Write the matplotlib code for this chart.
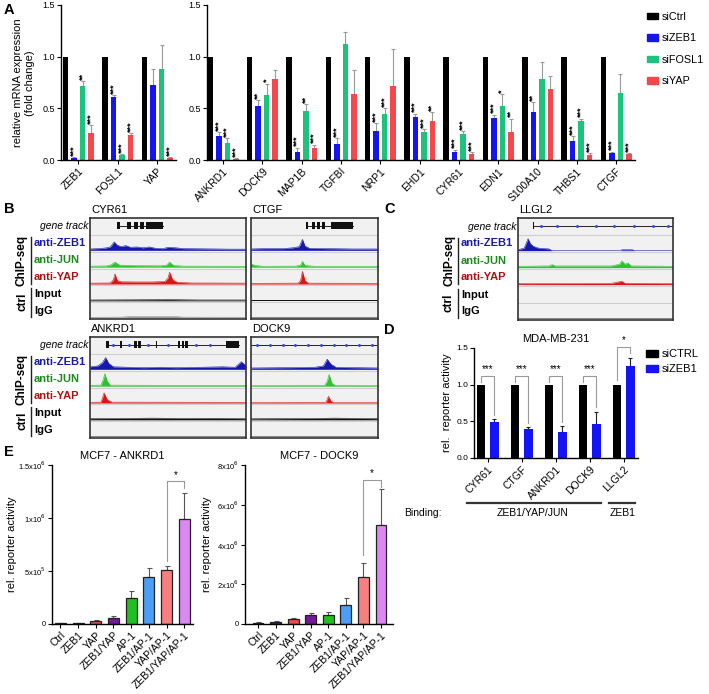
import matplotlib
matplotlib.use('Agg')
import matplotlib.pyplot as plt
from matplotlib.patches import Rectangle, Patch

plt.rcParams['font.family'] = ['Liberation Sans', 'DejaVu Sans']

W, H = 709, 694
fig = plt.figure(figsize=(W / 100, H / 100), dpi=100)


def add_ax(x0, y0, x1, y1):
    return fig.add_axes([x0 / W, 1 - y1 / H, (x1 - x0) / W, (y1 - y0) / H])


def T(x, y, s, **kw):
    fig.text(x / W, 1 - y / H, s, **kw)


# ---------------- DATA ----------------
# Panel A
a_genes_left = ['ZEB1', 'FOSL1', 'YAP']
a_genes_right = ['ANKRD1', 'DOCK9', 'MAP1B', 'TGFBI', 'NRP1', 'EHD1', 'CYR61',
                 'EDN1', 'S100A10', 'THBS1', 'CTGF']
a_conditions = ['siCtrl', 'siZEB1', 'siFOSL1', 'siYAP']
a_colors = ['#000000', '#1414f5', '#1dc27c', '#f5484c']
a_ctrl = [1.0, 1.0, 1.0, 1.0, 1.0, 1.0, 1.0, 1.0, 1.0, 1.0, 1.0, 1.0, 1.0, 1.0]
a_sizeb1 = [0.02, 0.61, 0.73, 0.23, 0.52, 0.08, 0.155, 0.28, 0.42, 0.08, 0.41, 0.46, 0.18, 0.065]
a_sizeb1_err = [0.01, 0.02, 0.15, 0.04, 0.06, 0.04, 0.055, 0.08, 0.03, 0.02, 0.03, 0.10, 0.05, 0.015]
a_sifosl1 = [0.72, 0.05, 0.88, 0.16, 0.63, 0.47, 1.12, 0.45, 0.275, 0.25, 0.52, 0.78, 0.38, 0.65]
a_sifosl1_err = [0.04, 0.005, 0.23, 0.05, 0.11, 0.07, 0.12, 0.05, 0.025, 0.03, 0.12, 0.17, 0.02, 0.18]
a_siyap = [0.26, 0.24, 0.02, 0.01, 0.78, 0.12, 0.64, 0.72, 0.38, 0.06, 0.27, 0.69, 0.05, 0.055]
a_siyap_err = [0.08, 0.02, 0.005, 0.005, 0.09, 0.03, 0.23, 0.35, 0.08, 0.018, 0.13, 0.12, 0.015, 0.015]
a_stars_zeb1 = ['***', '***', '', '***', '**', '***', '***', '***', '***', '***', '***', '**', '***', '***']
a_stars_fosl1 = ['**', '***', '', '***', '*', '**', '', '***', '***', '***', '*', '', '***', '']
a_stars_yap = ['***', '***', '***', '***', '', '***', '', '', '**', '***', '**', '', '***', '***']

# Panel B/C ChIP-seq tracks: (position along locus 0-1, signal height in row units)
cyr61_zeb1 = [(0, .08), (.05, .1), (.1, .14), (.13, .2), (.155, .5), (.175, .3), (.2, .22), (.23, .28),
              (.26, .18), (.3, .2), (.34, .15), (.38, .2), (.42, .12), (.47, .1), (.5, .18), (.55, .15),
              (.6, .1), (.7, .09), (.8, .08), (.9, .07), (1, .07)]
cyr61_jun = [(0, .06), (.1, .07), (.13, .12), (.16, .3), (.19, .12), (.3, .09), (.45, .08), (.49, .12),
             (.51, .3), (.535, .1), (.6, .06), (1, .05)]
cyr61_yap = [(0, .05), (.13, .06), (.15, .25), (.16, .6), (.175, .2), (.2, .13), (.3, .12), (.4, .12),
             (.48, .15), (.5, .35), (.51, .7), (.53, .25), (.56, .1), (.65, .06), (1, .05)]
cyr61_input = [(0, .05), (.3, .06), (.5, .07), (.7, .05), (1, .05)]
cyr61_igg = [(0, .02), (.2, .03), (.25, .06), (.55, .06), (.6, .03), (1, .02)]
ctgf_zeb1 = [(0, .08), (.1, .1), (.25, .1), (.33, .15), (.38, .22), (.405, .65), (.425, .25), (.46, .12),
             (.6, .1), (.8, .08), (1, .08)]
ctgf_jun = [(0, .2), (.03, .1), (.1, .05), (.35, .06), (.39, .12), (.405, .35), (.425, .1), (.5, .05), (1, .05)]
ctgf_yap = [(0, .04), (.37, .05), (.39, .2), (.405, .75), (.425, .2), (.45, .05), (1, .04)]
ctgf_input = [(0, .05), (1, .05)]
ctgf_igg = [(0, .02), (1, .02)]
ankrd1_zeb1 = [(0, .15), (.05, .2), (.08, .4), (.1, .7), (.12, .35), (.15, .15), (.25, .12), (.35, .1),
               (.45, .12), (.55, .1), (.7, .12), (.85, .15), (.93, .12), (.97, .45), (1, .2)]
ankrd1_jun = [(0, .05), (.07, .06), (.085, .4), (.095, .75), (.11, .3), (.13, .06), (.5, .05), (1, .05)]
ankrd1_yap = [(0, .04), (.07, .05), (.08, .3), (.09, .6), (.11, .2), (.14, .05), (1, .04)]
ankrd1_input = [(0, .07), (.2, .08), (.4, .1), (.6, .08), (.8, .09), (1, .07)]
ankrd1_igg = [(0, .02), (1, .02)]
dock9_zeb1 = [(0, .08), (.3, .1), (.5, .12), (.57, .2), (.6, .6), (.63, .3), (.67, .12), (.8, .1), (1, .08)]
dock9_jun = [(0, .04), (.58, .05), (.6, .3), (.615, .7), (.635, .2), (.66, .05), (1, .04)]
dock9_yap = [(0, .03), (.59, .04), (.61, .4), (.63, .1), (.65, .03), (1, .03)]
dock9_input = [(0, .06), (.5, .08), (.65, .1), (1, .07)]
dock9_igg = [(0, .02), (1, .02)]
llgl2_zeb1 = [(0, .05), (.04, .15), (.065, .7), (.08, .4), (.1, .25), (.13, .15), (.2, .1), (.22, 0),
              (.66, 0), (.67, .05), (.74, .05), (.75, 0), (1, 0)]
llgl2_jun = [(0, .08), (.2, .1), (.22, .18), (.24, .1), (.6, .1), (.655, .2), (.67, .4), (.69, .2),
             (.71, .28), (.73, .1), (1, .08)]
llgl2_yap = [(0, .06), (.6, .07), (.67, .2), (.69, .08), (1, .06)]
llgl2_input = []
llgl2_igg = [(0, .03), (1, .03)]
# gene models: span, exons, intron arrow positions
cyr61_span = (.17, .47)
cyr61_exons = [(.17, .19), (.235, .26), (.285, .305), (.32, .345), (.36, .40), (.40, .47)]
cyr61_arrows = []
ctgf_span = (.43, .8)
ctgf_exons = [(.43, .45), (.48, .5), (.52, .54), (.56, .58), (.63, .8)]
ctgf_arrows = []
ankrd1_span = (.1, .955)
ankrd1_exons = [(.1, .12), (.19, .205), (.285, .3), (.31, .325), (.42, .43), (.565, .575), (.59, .6),
                (.61, .625), (.87, .955)]
ankrd1_arrows = [.15, .25, .37, .5, .68, .77]
dock9_span = (0, 1)
dock9_exons = []
dock9_arrows = [.05, .15, .25, .35, .45, .55, .65, .75, .85, .95]
llgl2_span = (.1, 1)
llgl2_exons = [(.095, .105)]
llgl2_arrows = [.15, .25, .38, .5, .62, .75, .87, .97]

# Panel D
d_genes = ['CYR61', 'CTGF', 'ANKRD1', 'DOCK9', 'LLGL2']
d_ctrl = [1.0, 1.0, 1.0, 1.0, 1.0]
d_zeb1 = [0.49, 0.40, 0.36, 0.47, 1.26]
d_zeb1_err = [0.04, 0.02, 0.07, 0.16, 0.11]
d_stars = ['***', '***', '***', '***', '*']

# Panel E (values in units of 1e6)
e_labels = ['Ctrl', 'ZEB1', 'YAP', 'ZEB1/YAP', 'AP-1', 'ZEB1/AP-1', 'YAP/AP-1', 'ZEB1/YAP/AP-1']
e_colors = ['#111111', '#2020c8', '#f24a4a', '#74199a', '#22bf22', '#4a9ff5', '#f77f7f', '#dc88f2']
e_ankrd1 = [0.008, 0.01, 0.028, 0.058, 0.245, 0.44, 0.51, 0.99]
e_ankrd1_err = [0.004, 0.004, 0.01, 0.017, 0.07, 0.088, 0.04, 0.25]
e_dock9 = [0.07, 0.10, 0.23, 0.43, 0.47, 0.94, 2.35, 5.0]
e_dock9_err = [0.03, 0.03, 0.08, 0.10, 0.15, 0.36, 0.72, 1.77]

GRAY = '#9a9a9a'


def style_axes(ax):
    for s in ['top', 'right']:
        ax.spines[s].set_visible(False)
    for s in ['left', 'bottom']:
        ax.spines[s].set_linewidth(1.0)
    ax.tick_params(length=3, width=0.8, labelsize=6.5, pad=1.5)


# ---------------- PANEL A ----------------
pitch = 0.216
bw = 0.14
series = [(a_ctrl, None, None), (a_sizeb1, a_sizeb1_err, a_stars_zeb1),
          (a_sifosl1, a_sifosl1_err, a_stars_fosl1), (a_siyap, a_siyap_err, a_stars_yap)]


def draw_a(ax, sl, names, xl):
    n = len(names)
    for k, (vals, errs, stars) in enumerate(series):
        xs = [i + (k - 1.5) * pitch for i in range(n)]
        v = vals[sl]
        ax.bar(xs, v, width=bw, color=a_colors[k], zorder=2)
        if errs is not None:
            e = errs[sl]
            ax.errorbar(xs, v, yerr=[[0] * n, e], fmt='none', ecolor=GRAY, elinewidth=0.8,
                        capsize=1.2, capthick=0.8, zorder=1)
            for x, vv, ee, st in zip(xs, v, e, stars[sl]):
                if st:
                    ax.text(x, vv + ee + 0.012, st, rotation=90, ha='center', va='bottom',
                            fontsize=6.5, fontweight='bold')
    ax.set_xlim(*xl)
    ax.set_ylim(0, 1.5)
    ax.set_yticks([0, 0.5, 1.0, 1.5])
    ax.set_yticklabels(['0.0', '0.5', '1.0', '1.5'])
    ax.set_xticks(range(n))
    ax.set_xticklabels(names, rotation=45, ha='right', rotation_mode='anchor', fontsize=7.5)
    style_axes(ax)
    ax.tick_params(axis='x', labelsize=7.5)


axA1 = add_ax(61, 5, 176, 160)
draw_a(axA1, slice(0, 3), a_genes_left, (-0.44, 2.47))
axA2 = add_ax(207, 5, 635, 160)
draw_a(axA2, slice(3, 14), a_genes_right, (-0.41, 10.48))

T(24, 83, 'relative mRNA expression\n(fold change)', rotation=90, ha='center', va='center',
  fontsize=8, linespacing=1.2)
handles = [Patch(color=c) for c in a_colors]
fig.legend(handles, a_conditions, loc='upper left', bbox_to_anchor=(647 / W, 1 - 12 / H),
           frameon=False, fontsize=7.8, handlelength=1.0, handleheight=0.55, labelspacing=1.05,
           handletextpad=0.35, borderpad=0, borderaxespad=0)

# ---------------- PANEL B / C ----------------
row_names = ['gene track', 'anti-ZEB1', 'anti-JUN', 'anti-YAP', 'Input', 'IgG']
row_colors = ['#000000', '#1a1aa6', '#1b8a1b', '#b01010', '#000000', '#000000']
track_colors = ['#1616b0', '#2bc42b', '#dd1414', '#111111', '#8a8a8a']


def draw_box(x0, y0, x1, y1, title, tracks, span, exons, arrows):
    ax = add_ax(x0, y0, x1, y1)
    ax.set_facecolor('#f1f1f1')
    ax.set_xlim(0, 1)
    ax.set_ylim(0, 6)
    ax.set_xticks([])
    ax.set_yticks([])
    for s in ax.spines.values():
        s.set_color('#333333')
        s.set_linewidth(1.2)
    for yy in range(1, 6):
        ax.axhline(yy, color='#cfcfcf', lw=0.8, zorder=1)
    # gene track
    gy = 5.55
    ax.plot(span, [gy, gy], color='#222222', lw=0.7, zorder=2)
    if arrows:
        ax.plot(arrows, [gy] * len(arrows), ls='none', marker='.', ms=2.2, color='#2f45e8', zorder=3)
    for k, (ea, eb) in enumerate(exons):
        h = 0.42
        ax.add_patch(Rectangle((ea, gy - h / 2), eb - ea, h, color='#111111', lw=0, zorder=3))
    for r, tr in enumerate(tracks):
        if not tr:
            continue
        base = 4 - r + 0.08
        xs = [p[0] for p in tr]
        ys = [base + p[1] for p in tr]
        ax.fill_between(xs, base, ys, color=track_colors[r], lw=0, zorder=2)
        ax.plot(xs, ys, color=track_colors[r], lw=0.4, zorder=2)
    T(x0 + 1, y0 - 3, title, fontsize=8, ha='left', va='bottom')
    return ax


def draw_labels(xr, xl, xbar, xtxt, y0, y1):
    rh = (y1 - y0) / 6
    T(xr, y0 + rh * 0.5, 'gene track', fontsize=7.5, style='italic', ha='right', va='center')
    for r in range(1, 6):
        T(xl, y0 + rh * (r + 0.5), row_names[r], fontsize=8, fontweight='bold',
          color=row_colors[r], ha='left', va='center')
    fig.add_artist(plt.Line2D([xbar / W, xbar / W], [1 - (y0 + rh * 1.15) / H, 1 - (y0 + rh * 3.9) / H],
                              color='#222222', lw=1.0))
    fig.add_artist(plt.Line2D([xbar / W, xbar / W], [1 - (y0 + rh * 4.15) / H, 1 - (y0 + rh * 5.9) / H],
                              color='#222222', lw=1.0))
    T(xtxt, y0 + rh * 2.5, 'ChIP-seq', rotation=90, fontsize=8.5, fontweight='bold',
      ha='center', va='center')
    T(xtxt, y0 + rh * 5.0, 'ctrl', rotation=90, fontsize=8.5, fontweight='bold',
      ha='center', va='center')


draw_box(90, 218, 246, 319, 'CYR61', [cyr61_zeb1, cyr61_jun, cyr61_yap, cyr61_input, cyr61_igg],
         cyr61_span, cyr61_exons, cyr61_arrows)
draw_box(251, 218, 378, 319, 'CTGF', [ctgf_zeb1, ctgf_jun, ctgf_yap, ctgf_input, ctgf_igg],
         ctgf_span, ctgf_exons, ctgf_arrows)
draw_box(90, 337, 246, 438, 'ANKRD1', [ankrd1_zeb1, ankrd1_jun, ankrd1_yap, ankrd1_input, ankrd1_igg],
         ankrd1_span, ankrd1_exons, ankrd1_arrows)
draw_box(251, 337, 378, 438, 'DOCK9', [dock9_zeb1, dock9_jun, dock9_yap, dock9_input, dock9_igg],
         dock9_span, dock9_exons, dock9_arrows)
draw_box(518, 218, 673, 320, 'LLGL2', [llgl2_zeb1, llgl2_jun, llgl2_yap, llgl2_input, llgl2_igg],
         llgl2_span, llgl2_exons, llgl2_arrows)
draw_labels(88, 34, 31, 22, 218, 319)
draw_labels(88, 34, 31, 22, 337, 438)
draw_labels(516, 461, 458, 449, 218, 320)

# ---------------- PANEL D ----------------
axD = add_ax(474, 348, 638, 458)
xd = list(range(len(d_genes)))
off = 0.196
dbw = 0.256
axD.bar([x - off for x in xd], d_ctrl, width=dbw, color='#000000', zorder=2)
axD.bar([x + off for x in xd], d_zeb1, width=dbw, color='#1414f5', zorder=2)
axD.errorbar([x + off for x in xd], d_zeb1, yerr=[[0] * 5, d_zeb1_err], fmt='none', ecolor='#222222',
             elinewidth=0.8, capsize=1.5, capthick=0.8, zorder=1)
for i, (v, e, st) in enumerate(zip(d_zeb1, d_zeb1_err, d_stars)):
    top = 1.12 if v < 1 else 1.52
    axD.plot([i - off, i - off, i + off, i + off], [1.04 if v < 1 else 1.07, top, top, v + e + 0.06],
             color=GRAY, lw=0.8, clip_on=False)
    axD.text(i, top + 0.02, st, ha='center', va='bottom', fontsize=7, clip_on=False)
axD.set_xlim(-0.40, 4.42)
axD.set_ylim(0, 1.5)
axD.set_yticks([0, 0.5, 1.0, 1.5])
axD.set_yticklabels(['0.0', '0.5', '1.0', '1.5'])
axD.set_xticks(xd)
axD.set_xticklabels(d_genes, rotation=45, ha='right', rotation_mode='anchor')
style_axes(axD)
axD.tick_params(axis='x', labelsize=7.5)
axD.tick_params(axis='y', labelsize=6, pad=1)
axD.set_ylabel('rel.  reporter activity', fontsize=8)
axD.yaxis.set_label_coords(-0.135, 0.5)
axD.set_title('MDA-MB-231', fontsize=8, pad=4)
fig.legend([Patch(color='#000000'), Patch(color='#1414f5')], ['siCTRL', 'siZEB1'], loc='upper left',
           bbox_to_anchor=(646 / W, 1 - 349 / H), frameon=False, fontsize=8, handlelength=1.1,
           handleheight=0.6, labelspacing=0.45, handletextpad=0.3, borderpad=0, borderaxespad=0)
fig.add_artist(plt.Line2D([467 / W, 601 / W], [1 - 503 / H, 1 - 503 / H], color='#333333', lw=1.6))
fig.add_artist(plt.Line2D([609 / W, 635 / W], [1 - 503 / H, 1 - 503 / H], color='#333333', lw=1.6))
T(423, 513, 'Binding:', fontsize=7.5, ha='center', va='center')
T(533, 513, 'ZEB1/YAP/JUN', fontsize=7.5, ha='center', va='center')
T(623, 513, 'ZEB1', fontsize=7.5, ha='center', va='center')


# ---------------- PANEL E ----------------
def draw_e(ax, vals, errs, xl, ymax, ticks, ticklabels, title, br, labx):
    xs = list(range(len(vals)))
    ax.bar(xs, vals, width=0.62, color=e_colors, edgecolor='#222222', linewidth=0.9, zorder=2)
    ax.errorbar(xs, vals, yerr=[[0] * len(vals), errs], fmt='none', ecolor='#555555',
                elinewidth=0.8, capsize=1.8, capthick=0.8, zorder=1)
    lo, top, hi = br
    ax.plot([6, 6, 7, 7], [lo, top, top, hi], color=GRAY, lw=0.8)
    ax.text(6.5, top + ymax * 0.01, '*', ha='center', va='bottom', fontsize=7)
    ax.set_xlim(*xl)
    ax.set_ylim(0, ymax)
    ax.set_yticks(ticks)
    ax.set_yticklabels(ticklabels)
    ax.set_xticks(xs)
    ax.set_xticklabels(e_labels, rotation=45, ha='right', rotation_mode='anchor')
    style_axes(ax)
    ax.tick_params(axis='y', labelsize=5.5)
    ax.tick_params(axis='x', labelsize=7.5)
    ax.set_ylabel('rel. reporter activity', fontsize=8)
    ax.yaxis.set_label_coords(labx, 0.5)
    ax.set_title(title, fontsize=8, pad=4)


axE1 = add_ax(52, 465, 193, 624)
draw_e(axE1, e_ankrd1, e_ankrd1_err, (-0.47, 7.49), 1.5, [0, 0.5, 1.0, 1.5],
       ['0', r'5x10$^5$', r'1x10$^6$', r'1.5x10$^6$'], 'MCF7 - ANKRD1', (0.59, 1.345, 1.28), -0.25)
axE2 = add_ax(245, 465, 393, 624)
draw_e(axE2, e_dock9, e_dock9_err, (-0.74, 7.68), 8, [0, 2, 4, 6, 8],
       ['0', r'2x10$^6$', r'4x10$^6$', r'6x10$^6$', r'8x10$^6$'], 'MCF7 - DOCK9', (3.46, 7.24, 6.9), -0.22)

# panel letters
for lab, x, y in [('A', 4, 10), ('B', 4, 209), ('C', 384, 209), ('D', 384, 330), ('E', 4, 452)]:
    T(x, y, lab, fontsize=10.5, fontweight='bold', ha='left', va='center')

fig.savefig('out.png', dpi=100)
